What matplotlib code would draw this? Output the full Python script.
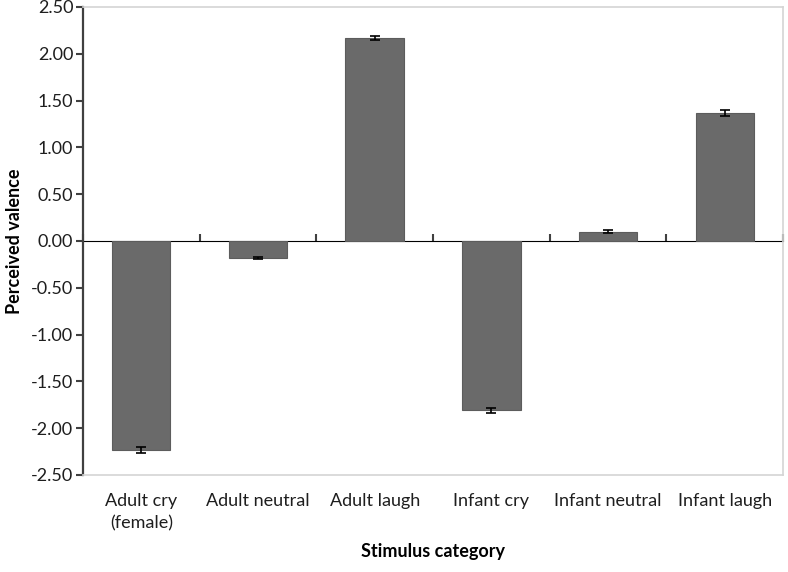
import numpy as np
import matplotlib.pyplot as plt

plt.rcParams['font.family'] = ['Lato', 'DejaVu Sans']

# ============= data =============
categories = ['Adult cry\n(female)', 'Adult neutral', 'Adult laugh',
              'Infant cry', 'Infant neutral', 'Infant laugh']
valence = [-2.23, -0.18, 2.17, -1.81, 0.10, 1.37]
sem = [0.03, 0.01, 0.025, 0.025, 0.02, 0.03]
y_ticks = [-2.5, -2.0, -1.5, -1.0, -0.5, 0.0, 0.5, 1.0, 1.5, 2.0, 2.5]

text_col = '#1e1e1e'
fig = plt.figure(figsize=(7.88, 5.72), dpi=100)
ax = fig.add_axes([0.1053, 0.1696, 0.8884, 0.8182])

x = np.arange(len(categories))
ax.bar(x, valence, width=0.5, color='#6a6a6a', edgecolor='#5c5c5c', linewidth=0.8, zorder=2)
ax.errorbar(x, valence, yerr=sem, fmt='none', ecolor='black', elinewidth=1.2,
            capsize=3.5, capthick=1.2, zorder=3)

ax.set_xlim(-0.5, len(categories) - 0.5)
ax.set_ylim(-2.5, 2.5)
ax.set_yticks(y_ticks)
ax.set_yticklabels([f'{v:.2f}' for v in y_ticks], fontsize=13, color=text_col)
ax.set_xticks(x)
ax.set_xticklabels(categories, fontsize=13, color=text_col, linespacing=1.5)
ax.tick_params(axis='x', length=0, pad=13)
ax.tick_params(axis='y', direction='out', length=5, width=1.5, color='#404040', pad=2)

for s in ['top', 'right', 'bottom']:
    ax.spines[s].set_color('#d4d4d4')
    ax.spines[s].set_linewidth(1.2)
ax.spines['left'].set_color('#404040')
ax.spines['left'].set_linewidth(1.6)

# zero line with category dividers
zero_ax = ax.secondary_xaxis(0.5)
zero_ax.set_xticks(np.arange(-0.5, len(categories), 1.0))
zero_ax.set_xticklabels([])
zero_ax.tick_params(direction='out', length=5, width=1.5, color='#404040')
zero_ax.spines['bottom'].set_color('#404040')
zero_ax.spines['bottom'].set_linewidth(1.6)

ax.set_ylabel('Perceived valence', fontsize=13, fontweight='bold', color='black', labelpad=6)
ax.set_xlabel('Stimulus category', fontsize=13, fontweight='bold', color='black', labelpad=8)

fig.savefig('out.png', dpi=100)
